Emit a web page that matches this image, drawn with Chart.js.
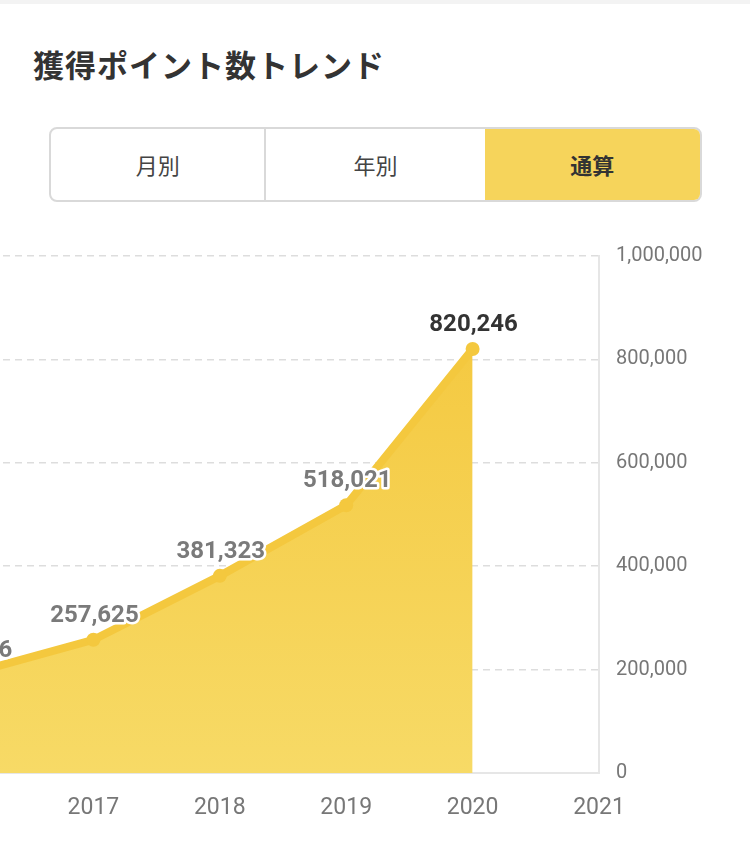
<!DOCTYPE html>
<html>
<head>
<meta charset="utf-8">
<script src="https://cdn.jsdelivr.net/npm/chart.js"></script>
<style>
  body {
    margin: 0;
    width: 750px;
    height: 845px;
    overflow: hidden;
    background: #fff;
    font-family: "Noto Sans CJK JP", "Noto Sans", sans-serif;
    position: relative;
  }
  .topbar { position: absolute; left: 0; top: 0; width: 750px; height: 4px; background: #f3f3f3; }
  h2 {
    position: absolute;
    left: 33px;
    top: 42px;
    margin: 0;
    font-size: 31px;
    font-weight: bold;
    letter-spacing: 1px;
    color: #333;
    line-height: 44px;
  }
  .tabs {
    position: absolute;
    left: 49px;
    top: 127px;
    width: 649px;
    height: 71px;
    border: 2px solid #d9d9d9;
    border-radius: 8px;
    overflow: hidden;
    display: flex;
  }
  .tabs div {
    height: 71px;
    line-height: 71px;
    text-align: center;
    font-size: 22px;
    color: #444;
  }
  .tabs .t1 { width: 214px; border-right: 2px solid #d9d9d9; }
  .tabs .t2 { width: 219px; }
  .tabs .t3 { width: 216px; background: #f6d45b; font-weight: bold; color: #333; }
  #wrap {
    position: absolute;
    left: -40px;
    top: 230px;
    width: 790px;
    height: 615px;
  }
</style>
</head>
<body>
<div class="topbar"></div>
<h2>獲得ポイント数トレンド</h2>
<div class="tabs">
  <div class="t1">月別</div>
  <div class="t2">年別</div>
  <div class="t3">通算</div>
</div>
<div id="wrap"><canvas id="chart"></canvas></div>

<script>
// data
const years = ['2016', '2017', '2018', '2019', '2020', '2021'];
const points = [190316, 257625, 381323, 518021, 820246, null];
const yTicks = [0, 200000, 400000, 600000, 800000, 1000000];

const yellow = '#f4c83e';

// value labels above each point (no datalabels plugin offline)
const valueLabels = {
  id: 'valueLabels',
  afterDatasetsDraw(chart) {
    const ctx = chart.ctx;
    const meta = chart.getDatasetMeta(0);
    const ds = chart.data.datasets[0].data;
    let last = -1;
    ds.forEach((v, i) => { if (v != null) last = i; });
    ctx.save();
    ctx.font = 'bold 24px Roboto';
    ctx.textAlign = 'center';
    ctx.textBaseline = 'bottom';
    ctx.lineJoin = 'round';
    meta.data.forEach((pt, i) => {
      const v = ds[i];
      if (v == null) return;
      const txt = v.toLocaleString('en-US');
      ctx.lineWidth = 5;
      ctx.strokeStyle = '#fff';
      ctx.strokeText(txt, pt.x + 1, pt.y - 12);
      ctx.fillStyle = i === last ? '#333' : '#7a7a7a';
      ctx.fillText(txt, pt.x + 1, pt.y - 12);
    });
    ctx.restore();
  }
};

const chart = new Chart(document.getElementById('chart').getContext('2d'), {
  type: 'line',
  data: {
    labels: years,
    datasets: [{
      data: points,
      borderColor: yellow,
      borderWidth: 8,
      pointRadius: 7,
      pointBackgroundColor: yellow,
      pointBorderWidth: 0,
      tension: 0,
      fill: 'origin',
      backgroundColor: (c) => {
        const area = c.chart.chartArea;
        if (!area) return yellow;
        const g = c.chart.ctx.createLinearGradient(0, area.top, 0, area.bottom);
        g.addColorStop(0, '#f4c63a');
        g.addColorStop(1, '#f7da66');
        return g;
      }
    }]
  },
  options: {
    responsive: true,
    maintainAspectRatio: false,
    animation: false,
    layout: { padding: { top: 26, left: 0, right: 0, bottom: 0 } },
    plugins: {
      legend: { display: false },
      tooltip: { enabled: false }
    },
    scales: {
      x: {
        offset: false,
        grid: { display: false },
        border: { display: true, color: '#e6e6e6', width: 2 },
        ticks: {
          color: '#777',
          font: { family: 'Roboto', size: 23 },
          padding: 13,
          maxRotation: 0,
          autoSkip: false
        },
        afterFit(scale) {
          scale.height = 72;
          scale.paddingLeft = 0;
          scale.paddingRight = 0;
        }
      },
      y: {
        position: 'right',
        min: 0,
        max: 1000000,
        afterBuildTicks(scale) {
          scale.ticks = yTicks.map(v => ({ value: v }));
        },
        grid: { color: '#dddddd', lineWidth: 1.5, drawTicks: false },
        border: { display: true, color: '#e6e6e6', width: 2, dash: [7, 5] },
        ticks: {
          color: '#777',
          font: { family: 'Roboto', size: 20 },
          padding: 17,
          callback: (v) => v.toLocaleString('en-US')
        },
        afterFit(scale) {
          scale.width = 151;
          scale.paddingTop = 0;
          scale.paddingBottom = 0;
        }
      }
    }
  },
  plugins: [valueLabels]
});
</script>
</body>
</html>
